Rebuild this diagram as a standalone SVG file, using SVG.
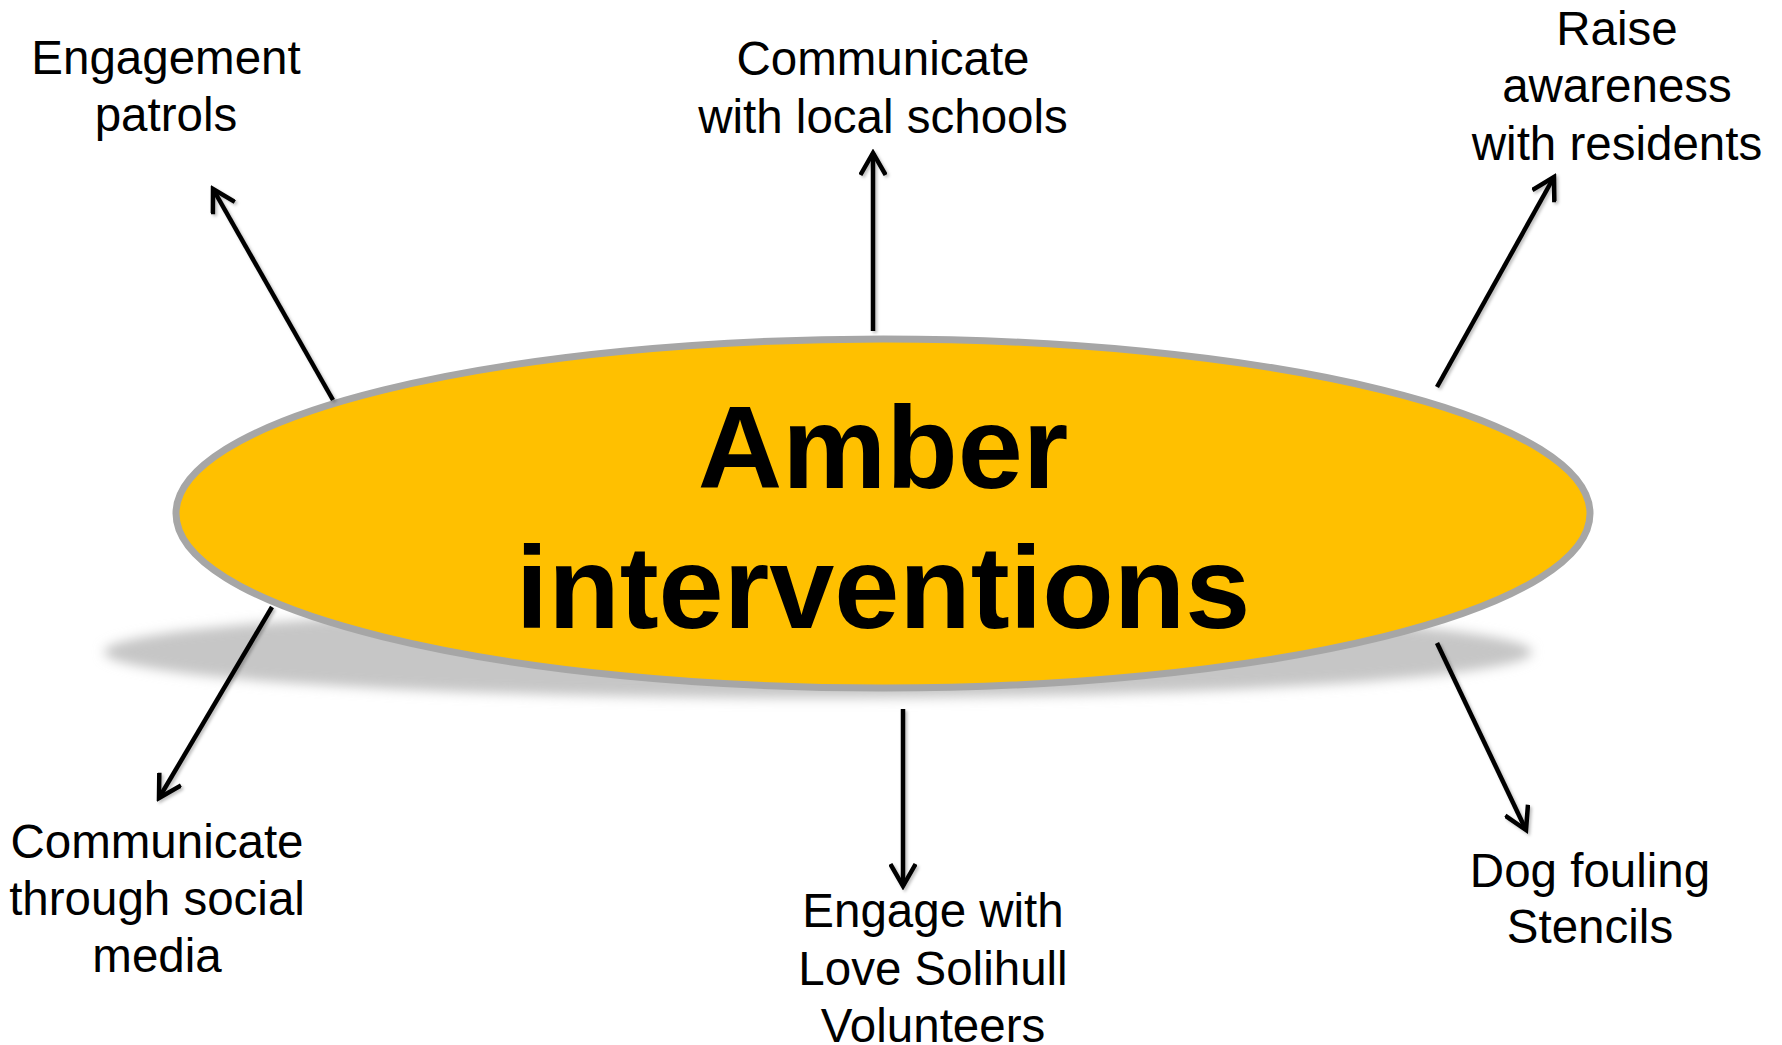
<svg xmlns="http://www.w3.org/2000/svg" width="1782" height="1045" viewBox="0 0 1782 1045">
<style>
.lbl{font-family:"Liberation Sans",Arial,sans-serif;font-size:47.5px;fill:#000;text-anchor:middle}
.title{font-family:"Liberation Sans",Arial,sans-serif;font-size:117px;font-weight:bold;fill:#000;text-anchor:middle}
.conn{stroke:#000;stroke-width:4.5;fill:none;marker-end:url(#arr)}
</style>
<defs>
<filter id="blur" x="-10%" y="-50%" width="120%" height="200%"><feGaussianBlur stdDeviation="6"/></filter>
<filter id="ash" x="-30%" y="-30%" width="160%" height="160%"><feDropShadow dx="2" dy="2" stdDeviation="1.5" flood-color="#000" flood-opacity="0.25"/></filter>
<marker id="arr" markerUnits="userSpaceOnUse" viewBox="-26 -14 30 28" refX="0" refY="0" markerWidth="30" markerHeight="28" orient="auto">
<path d="M-20,-11.5 L0,0 L-20,11.5" fill="none" stroke="#000" stroke-width="4.5" stroke-linecap="square" stroke-linejoin="miter"/>
</marker>
</defs>
<rect width="1782" height="1045" fill="#fff"/>
<g id="center">
<ellipse cx="818" cy="652" rx="714" ry="46" fill="#c6c6c6" filter="url(#blur)"/>
<ellipse cx="883" cy="513.5" rx="707" ry="174.5" fill="#FFC000" stroke="#A6A6A6" stroke-width="7"/>
<text class="title" x="883" y="488">Amber</text>
<text class="title" x="883" y="628">interventions</text>
</g>
<g id="connectors" filter="url(#ash)">
<line class="conn" x1="333" y1="400" x2="213" y2="189"/>
<line class="conn" x1="873" y1="331" x2="873" y2="153"/>
<line class="conn" x1="1437" y1="387" x2="1554" y2="177"/>
<line class="conn" x1="272" y1="607" x2="159" y2="798"/>
<line class="conn" x1="903" y1="709" x2="903" y2="886"/>
<line class="conn" x1="1437" y1="643" x2="1526" y2="830"/>
</g>
<g id="engagement-patrols">
<text class="lbl" x="166" y="74">Engagement</text>
<text class="lbl" x="166" y="131">patrols</text>
</g>
<g id="communicate-schools">
<text class="lbl" x="883" y="75">Communicate</text>
<text class="lbl" x="883" y="133">with local schools</text>
</g>
<g id="raise-awareness">
<text class="lbl" x="1617" y="45">Raise</text>
<text class="lbl" x="1617" y="102">awareness</text>
<text class="lbl" x="1617" y="160">with residents</text>
</g>
<g id="social-media">
<text class="lbl" x="157" y="858">Communicate</text>
<text class="lbl" x="157" y="915">through social</text>
<text class="lbl" x="157" y="972">media</text>
</g>
<g id="love-solihull">
<text class="lbl" x="933" y="927">Engage with</text>
<text class="lbl" x="933" y="985">Love Solihull</text>
<text class="lbl" x="933" y="1042">Volunteers</text>
</g>
<g id="dog-fouling">
<text class="lbl" x="1590" y="887">Dog fouling</text>
<text class="lbl" x="1590" y="943">Stencils</text>
</g>
</svg>
